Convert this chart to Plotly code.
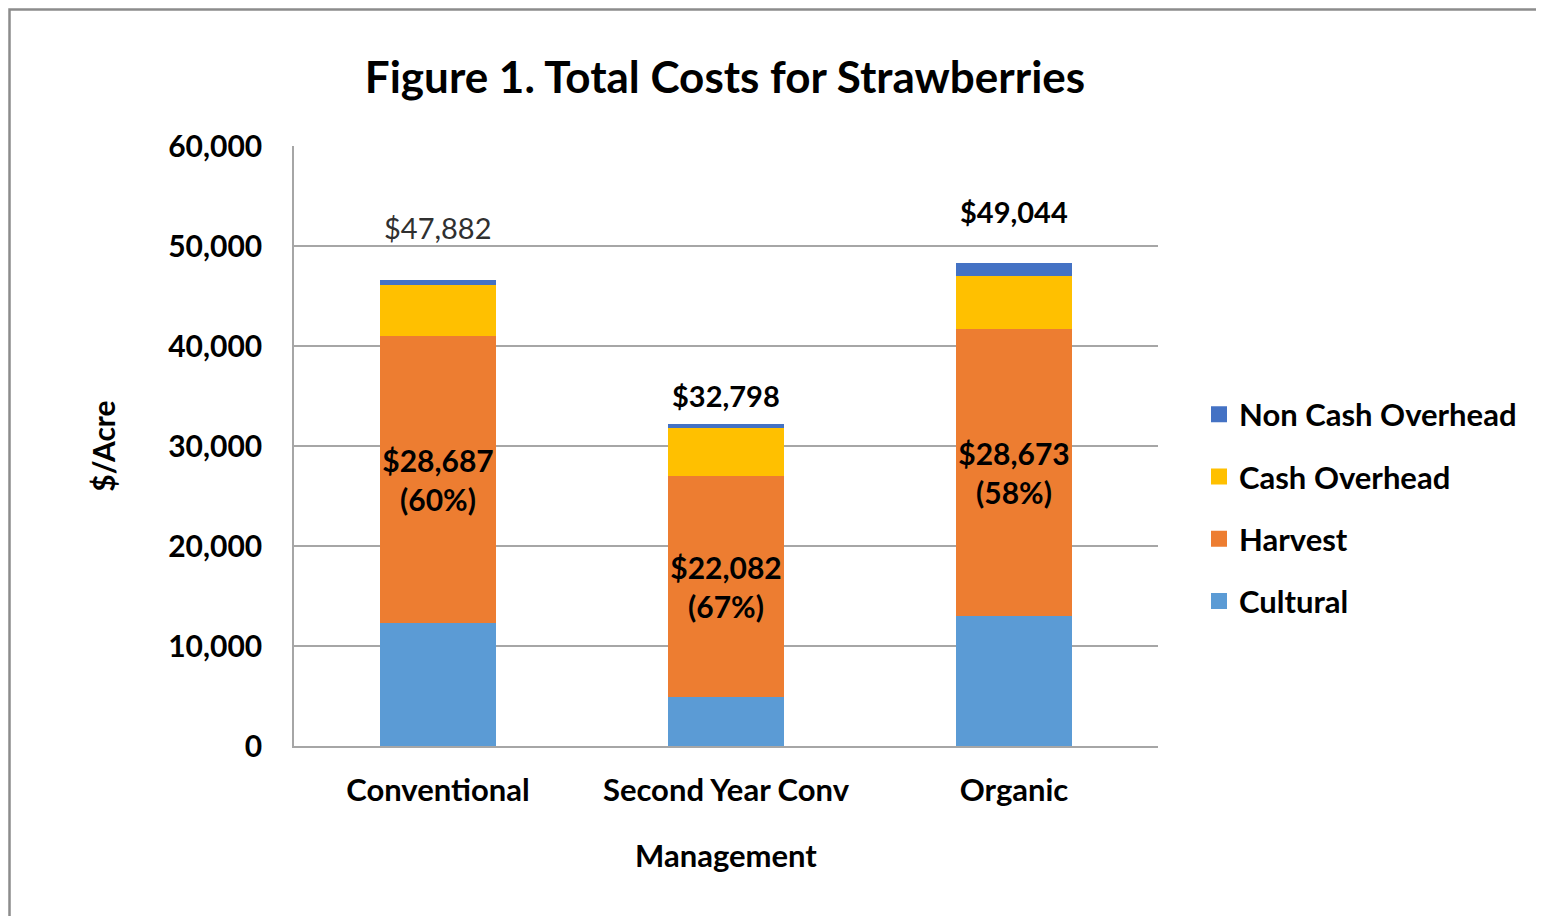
import plotly.graph_objects as go

categories = ["Conventional", "Second Year Conv", "Organic"]
cultural = [12300, 4950, 13000]
harvest = [28687, 22082, 28673]
cash_overhead = [5150, 4800, 5300]
non_cash_overhead = [500, 350, 1340]
harvest_pct = ["60%", "67%", "58%"]
total_labels = ["$47,882", "$32,798", "$49,044"]
tick_vals = [0, 10000, 20000, 30000, 40000, 50000, 60000]

FONT = "Lato"
OX, OY = 8, 8          # page body margin offset
W, H = 1544 - OX, 916 - OY
L, T = 294 - OX, 146 - OY
PW, PH = 864, 600

fig = go.Figure()

harvest_text = [f"${v:,}<br>({p})" for v, p in zip(harvest, harvest_pct)]

series = [
    ("Cultural", cultural, "#5b9bd5", None, 4),
    ("Harvest", harvest, "#ed7d31", harvest_text, 3),
    ("Cash Overhead", cash_overhead, "#ffc000", None, 2),
    ("Non Cash Overhead", non_cash_overhead, "#4472c4", None, 1),
]
for name, vals, color, txt, rank in series:
    fig.add_trace(go.Bar(
        x=categories, y=vals, name=name, showlegend=False,
        marker=dict(color=color, line=dict(width=0)),
        text=txt, textposition="inside" if txt else "none",
        insidetextanchor="middle", textangle=0, constraintext="none",
        textfont=dict(family=FONT, size=30, color="black", weight="bold"),
        hoverinfo="skip",
    ))
for name, vals, color, txt, rank in series:
    fig.add_trace(go.Scatter(
        x=[None], y=[None], mode="markers", name=name, legendgroup=name,
        legendrank=rank, showlegend=True,
        marker=dict(symbol="square", size=18, color=color),
        hoverinfo="skip",
    ))

totals = [a + b + c + d for a, b, c, d in zip(cultural, harvest, cash_overhead, non_cash_overhead)]
shifts = [52, 29, 51]
for i, (cat, tot, lab) in enumerate(zip(categories, totals, total_labels)):
    fig.add_annotation(
        x=cat, y=tot, text=lab, showarrow=False, yanchor="middle", yshift=shifts[i],
        font=dict(family=FONT, size=29, color="#303030" if i == 0 else "black",
                  weight="normal" if i == 0 else "bold"),
    )

# outer chart border
fig.add_shape(type="rect", xref="paper", yref="paper",
              x0=(9.5 - 294) / PW, x1=(1560 - 294) / PW,
              y0=(746 - 930) / PH, y1=(746 - 9.5) / PH,
              line=dict(color="#8c8c8c", width=2.5), layer="below")

fig.update_layout(
    width=W, height=H,
    margin=dict(l=L, r=W - L - PW, t=T, b=H - T - PH, pad=0),
    paper_bgcolor="white", plot_bgcolor="white",
    barmode="stack", bargap=0.6,
    font=dict(family=FONT, color="black"),
    title=dict(text="<b>Figure 1. Total Costs for Strawberries</b>",
               x=(725 - OX) / W, xanchor="center", y=1 - (78 - OY) / H, yanchor="middle",
               font=dict(family=FONT, size=44, color="black")),
    xaxis=dict(
        showgrid=False, showline=True, linecolor="#a6a6a6", linewidth=2,
        ticks="", ticklabelstandoff=16,
        tickfont=dict(family=FONT, size=31, weight="bold"),
        title=dict(text="<b>Management</b>", font=dict(family=FONT, size=31), standoff=38),
    ),
    yaxis=dict(
        range=[0, 60000], tickvals=tick_vals, tickformat=",",
        showgrid=True, gridcolor="#a6a6a6", gridwidth=1.5,
        showline=True, linecolor="#a6a6a6", linewidth=1.5,
        zeroline=False, ticks="", ticklen=0, ticklabelstandoff=24,
        tickfont=dict(family=FONT, size=30, weight="bold"),
        title=dict(text="<b>$/Acre</b>", font=dict(family=FONT, size=30), standoff=44),
    ),
    legend=dict(
        x=(1199 - 294) / PW, xanchor="left", y=(746 - 508) / PH, yanchor="middle",
        traceorder="grouped", tracegroupgap=19, itemsizing="trace",
        font=dict(family=FONT, size=31, weight="bold"),
        itemwidth=30, bgcolor="rgba(0,0,0,0)",
    ),
    showlegend=True,
)

fig.write_html("out.html")
